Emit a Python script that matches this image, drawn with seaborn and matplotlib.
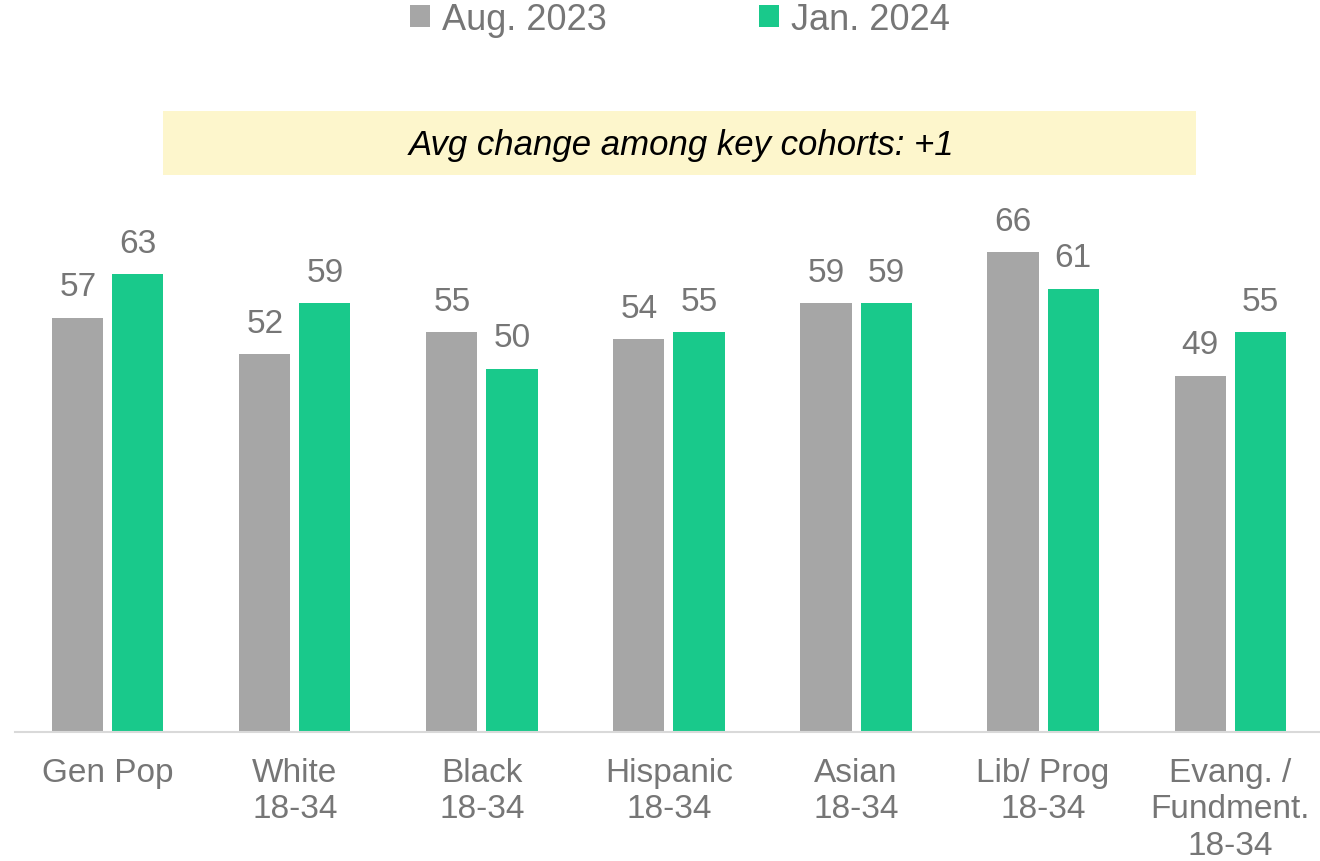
import matplotlib
matplotlib.use("Agg")
import matplotlib.pyplot as plt
from matplotlib.patches import Rectangle, Patch
import pandas as pd
import seaborn as sns

# Survey cohorts and results for the two waves
cohorts = ["Gen Pop", "White\n18-34", "Black\n18-34", "Hispanic\n18-34",
           "Asian\n18-34", "Lib/ Prog\n18-34", "Evang. /\nFundment.\n18-34"]
waves = ["Aug. 2023", "Jan. 2024"]
aug_2023 = [57, 52, 55, 54, 59, 66, 49]
jan_2024 = [63, 59, 50, 55, 59, 61, 55]
banner_text = "Avg change among key cohorts: +1"

GRAY = "#A6A6A6"
GREEN = "#19C98B"
TEXT = "#767676"

sns.set_theme(style="white")
plt.rcParams["font.family"] = ["Liberation Sans", "DejaVu Sans"]

df = pd.DataFrame({
    "cohort": cohorts * 2,
    "wave": [waves[0]] * len(cohorts) + [waves[1]] * len(cohorts),
    "value": aug_2023 + jan_2024,
})

W, H = 1320, 862
fig = plt.figure(figsize=(W / 100, H / 100), dpi=100)
ax = fig.add_axes([15 / W, (H - 733) / H, (W - 15) / W, 581.6 / H])

sns.barplot(data=df, x="cohort", y="value", hue="wave", order=cohorts,
            hue_order=waves, palette=[GRAY, GREEN], width=0.642, gap=0.15,
            saturation=1, linewidth=0, ax=ax)

ax.set_ylim(0, 80)
ax.set_xlim(-0.497, 6.481)
ax.set_xlabel("")
ax.set_ylabel("")
ax.set_yticks([])
for side in ["left", "right", "top"]:
    ax.spines[side].set_visible(False)
ax.spines["bottom"].set_color("#D9D9D9")
ax.spines["bottom"].set_linewidth(1.5)
ax.tick_params(axis="x", length=0, pad=18, labelsize=24, labelcolor=TEXT)
for lbl in ax.get_xticklabels():
    lbl.set_linespacing(1.22)

for cont in ax.containers:
    ax.bar_label(cont, fmt="%d", padding=11, fontsize=24, color=TEXT)

# Legend across the top
handles = [Patch(facecolor=GRAY, edgecolor="none"),
           Patch(facecolor=GREEN, edgecolor="none")]
if ax.get_legend() is not None:
    ax.get_legend().remove()
fig.legend(handles, waves, loc="center", bbox_to_anchor=(680 / W, 1 - 20 / H),
           ncol=2, frameon=False, fontsize=26, labelcolor=TEXT,
           handlelength=0.55, handleheight=0.55, handletextpad=0.35,
           columnspacing=4.2, borderaxespad=0)

# Highlight banner
fig.patches.append(Rectangle((163 / W, 1 - 176 / H), (1196 - 163) / W, 64 / H,
                             transform=fig.transFigure, facecolor="#FDF6CC",
                             edgecolor="none", zorder=0))
fig.text(682 / W, 1 - 145 / H, banner_text, ha="center", va="center",
         fontsize=25, style="italic", color="black")

fig.savefig("out.png", dpi=100)
